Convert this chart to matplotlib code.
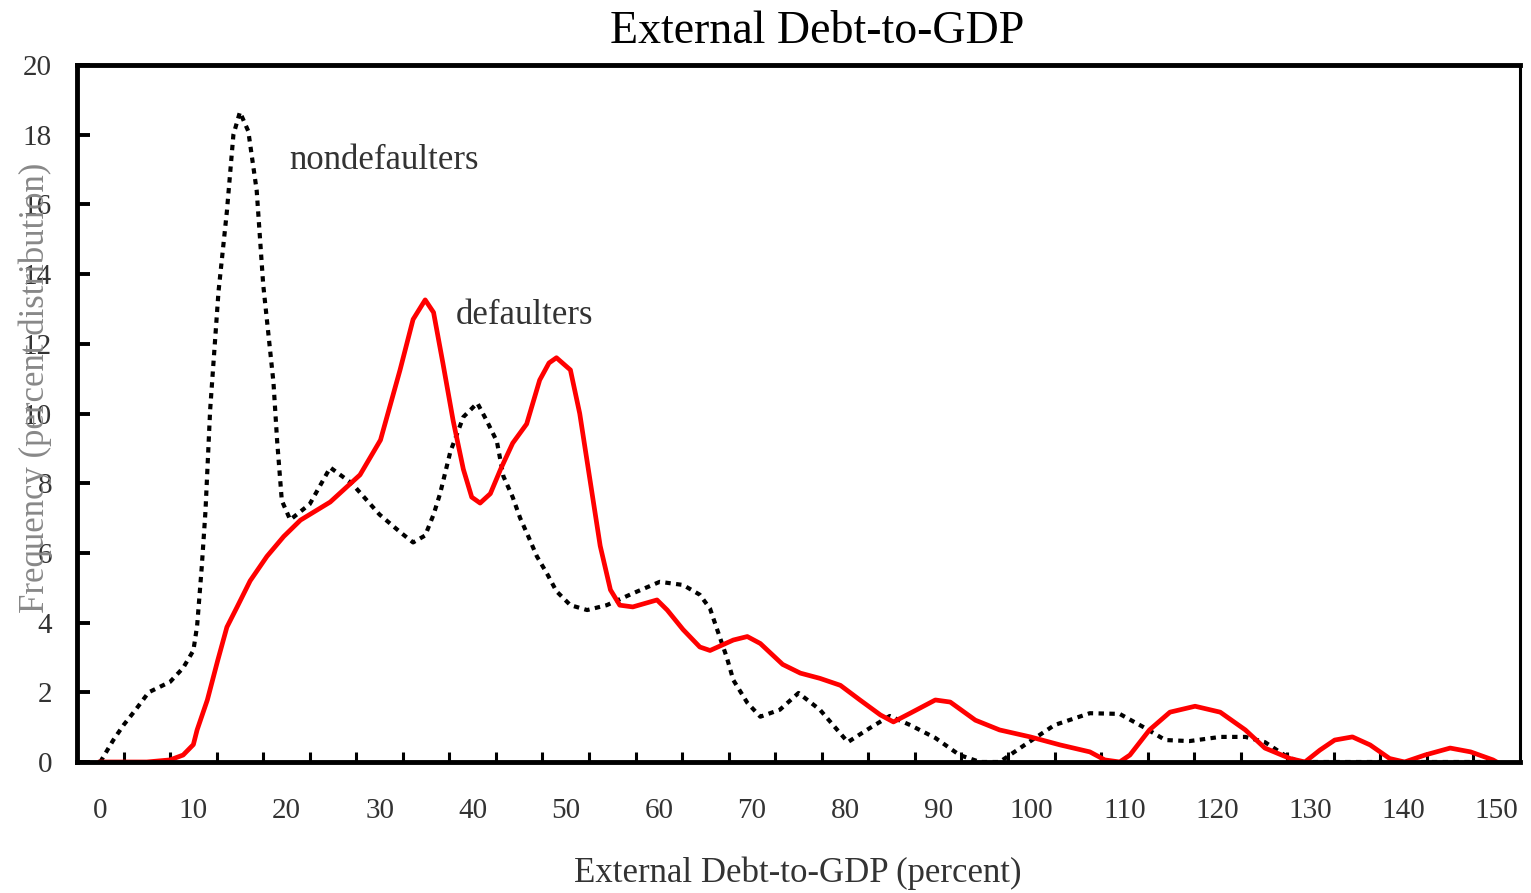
import numpy as np
import matplotlib
matplotlib.use("Agg")
import matplotlib.pyplot as plt

# --- dados ---
# nondefaulters (linha preta pontilhada)
x_non = [0, 1.4, 2.5, 3.8, 5.2, 7.5, 8.9, 10, 10.4, 10.9, 11.3, 11.8, 12.7, 13.6,
         14.3, 15.0, 15.9, 16.8, 17.5, 18.6, 19.0, 19.5, 20.4, 22.5, 24.7, 27.0,
         30.0, 32.2, 33.6, 34.9, 35.8, 36.5, 37.6, 39.0, 40.5, 41.5, 42.6, 43.3,
         44.3, 45.1, 46.0, 46.9, 48.0, 49.0, 50.5, 52.3, 54.4, 57.3, 60.1, 62.6,
         64.4, 65.5, 66.2, 67.3, 68.0, 69.5, 70.9, 73.0, 75.0, 77.3, 80.3, 82.7,
         84.8, 87.0, 89.7, 92.3, 94.5, 96.6, 99.3, 102.5, 106.3, 109.5, 112.2,
         114.4, 117.0, 120.3, 123.0, 125.1, 127.2, 128.8, 135, 150]
y_non = [0, 0.63, 1.06, 1.5, 2.0, 2.3, 2.7, 3.2, 3.9, 5.6, 7.2, 10.1, 13.5, 15.8,
         18.0, 18.65, 18.1, 16.4, 13.7, 10.9, 9.2, 7.5, 6.95, 7.4, 8.45, 8.0,
         7.1, 6.6, 6.3, 6.5, 7.1, 7.7, 8.9, 9.9, 10.3, 9.8, 9.2, 8.2,
         7.6, 7.0, 6.46, 5.9, 5.4, 4.9, 4.5, 4.36, 4.5, 4.85, 5.17, 5.08,
         4.8, 4.4, 3.85, 3.0, 2.35, 1.7, 1.3, 1.5, 1.98, 1.5, 0.57, 0.98,
         1.32, 1.06, 0.69, 0.2, 0, 0, 0.49, 1.06, 1.4, 1.38, 0.98,
         0.63, 0.6, 0.72, 0.72, 0.57, 0.2, 0, 0, 0]

# defaulters (linha vermelha)
x_def = [0, 5.0, 7.5, 8.9, 10.0, 10.4, 11.5, 12.6, 13.6, 14.7, 16.1, 17.9, 19.7,
         21.5, 24.7, 27.9, 30.1, 32.2, 33.6, 34.9, 35.8, 36.8, 37.9, 39.0, 39.9,
         40.8, 41.9, 43.0, 44.3, 45.8, 47.2, 48.2, 49.0, 50.5, 51.5, 52.6, 53.7,
         54.8, 55.8, 57.2, 59.8, 60.9, 62.6, 64.4, 65.5, 68.0, 69.5, 70.9, 73.3,
         75.2, 77.3, 79.5, 81.6, 83.8, 85.2, 87.0, 89.7, 91.3, 94.0, 96.6, 99.9,
         103.1, 106.3, 107.9, 109.5, 110.6, 112.7, 114.9, 117.6, 120.3, 123.0,
         125.1, 127.8, 129.4, 131.0, 132.6, 134.5, 136.4, 138.5, 140.1, 142.3,
         145.0, 147.2, 149.6, 150]
y_def = [0, 0, 0.06, 0.2, 0.5, 0.92, 1.78, 2.9, 3.87, 4.45, 5.2, 5.9, 6.47,
         6.94, 7.46, 8.24, 9.24, 11.25, 12.7, 13.26, 12.9, 11.45, 9.8, 8.4, 7.6,
         7.43, 7.7, 8.4, 9.15, 9.7, 10.96, 11.45, 11.6, 11.25, 10.0, 8.1, 6.2,
         4.94, 4.5, 4.45, 4.65, 4.36, 3.8, 3.3, 3.2, 3.5, 3.6, 3.4, 2.8,
         2.55, 2.4, 2.2, 1.78, 1.35, 1.15, 1.4, 1.78, 1.72, 1.2, 0.92, 0.72,
         0.49, 0.29, 0.06, 0, 0.2, 0.92, 1.43, 1.6, 1.43, 0.92,
         0.4, 0.1, 0, 0.34, 0.63, 0.72, 0.49, 0.1, 0, 0.2,
         0.4, 0.29, 0.06, 0]

x_ticks = list(range(0, 151, 10))
y_ticks = list(range(0, 21, 2))

# --- figura ---
plt.rcParams["font.family"] = ["Liberation Serif", "DejaVu Serif"]

fig = plt.figure(figsize=(15.31, 8.93), dpi=100)
ax = fig.add_axes([0.0503, 0.1467, 0.9425, 0.7805])

ax.plot(x_non, y_non, color="black", lw=3.0, linestyle=(0, (1.3, 1.3)),
        dash_capstyle="butt")
ax.plot(x_def, y_def, color="#ff0000", lw=3.4)

ax.set_xlim(-2.5, 152.5)
ax.set_ylim(0, 20)

ax.set_xticks(x_ticks)
ax.set_xticks(np.arange(2.5, 150, 5), minor=True)
ax.set_yticks(y_ticks)
ax.tick_params(axis="x", which="major", length=0, pad=26, labelsize=21,
               labelcolor="#333333")
ax.tick_params(axis="x", which="minor", direction="in", length=7, width=2.2)
ax.tick_params(axis="y", which="major", direction="in", length=9, width=2.8,
               pad=18, labelsize=21, labelcolor="#333333")

for side in ["left", "top", "bottom"]:
    ax.spines[side].set_linewidth(3.5)
ax.spines["right"].set_linewidth(2.2)

ax.text(20.3, 17.27, "nondefaulters", fontsize=25, color="#333333", va="center")
ax.text(38.2, 12.8, "defaulters", fontsize=25, color="#333333", va="center")

fig.text(0.5336, 1 - 32 / 893, "External Debt-to-GDP", fontsize=33,
         ha="center", va="center")
fig.text(798 / 1531, 1 - 873 / 893, "External Debt-to-GDP (percent)",
         fontsize=25, color="#333333", ha="center", va="center")
fig.text(35 / 1531, 1 - 388 / 893, "Frequency (percent distribution)",
         fontsize=25, color="#888888", rotation=90, ha="center", va="center")

fig.savefig("out.png", dpi=100)
